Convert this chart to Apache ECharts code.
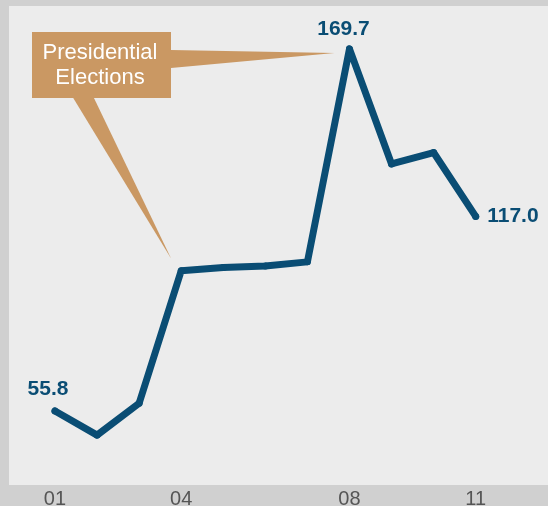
<!DOCTYPE html>
<html><head><meta charset="utf-8">
<script src="https://cdn.jsdelivr.net/npm/echarts@6/dist/echarts.min.js"></script>
<style>html,body{margin:0;padding:0;background:#d0d0d0;}#c{width:548px;height:506px;}</style>
</head><body><div id="c"></div>
<script>
var categories = ['01','02','03','04','05','06','07','08','09','10','11'];
var values = [55.8, 48.2, 58.2, 99.9, 100.9, 101.4, 102.7, 169.7, 133.5, 137.1, 117.0];
var tickLabels = ['01','04','08','11'];
var calloutText = 'Presidential\nElections';
var calloutPoints = ['04','08'];

var FONT = '"Liberation Sans", Arial, Helvetica, sans-serif';
var LINE = '#0a4d74';
var TAN = '#ca9863';

var labelCfg = {
  0: {show:true, position:'top', distance:8, offset:[-7,0]},
  7: {show:true, position:'top', distance:6, offset:[-6,0]},
  10:{show:true, position:'right', distance:8}
};
var data = values.map(function(v,i){
  var item = {value:[i+1, v]};
  if (labelCfg[i]) item.label = labelCfg[i];
  return item;
});
var tickVals = tickLabels.map(function(t){ return categories.indexOf(t)+1; });

var chart = echarts.init(document.getElementById('c'));
chart.setOption({
  backgroundColor:'#d0d0d0',
  animation:false,
  grid:{left:9, top:6, right:0, bottom:21, show:true, backgroundColor:'#ececec', borderWidth:0,
    containLabel:false, outerBoundsMode:'none'},
  xAxis:{type:'value', min:-0.0934, max:12.719,
    axisLine:{show:false}, axisTick:{show:false}, splitLine:{show:false},
    axisLabel:{customValues:tickVals, margin:4, color:'#555555', fontSize:20, fontFamily:FONT,
      formatter:function(v){ return categories[Math.round(v)-1]; }}},
  yAxis:{type:'value', min:32.5, max:183.2, show:false, splitLine:{show:false}},
  series:[{
    type:'line', data:data, clip:false,
    symbol:'circle', symbolSize:7, showSymbol:true,
    itemStyle:{color:LINE},
    lineStyle:{color:LINE, width:7, cap:'round', join:'round'},
    label:{show:false, color:LINE, fontSize:21, fontWeight:'bold', fontFamily:FONT,
      formatter:function(p){ return p.value[1].toFixed(1); }},
    emphasis:{disabled:true}
  }]
});

function px(cat){
  var i = categories.indexOf(cat);
  return chart.convertToPixel({gridIndex:0}, [i+1, values[i]]);
}
var pA = px(calloutPoints[0]), pB = px(calloutPoints[1]);
chart.setOption({
  graphic:[
    {type:'polygon', z:10, shape:{points:[[171,50],[171,68],[pB[0]-15,pB[1]+4]]}, style:{fill:TAN}},
    {type:'polygon', z:10, shape:{points:[[72,96],[93,96],[pA[0]-10,pA[1]-12]]}, style:{fill:TAN}},
    {type:'rect', z:11, shape:{x:32, y:32, width:139, height:66}, style:{fill:TAN}},
    {type:'text', z:12, style:{text:calloutText, x:100, y:65, align:'center', verticalAlign:'middle',
      fill:'#ffffff', font:'22px '+FONT, lineHeight:25}}
  ]
});
</script></body></html>
